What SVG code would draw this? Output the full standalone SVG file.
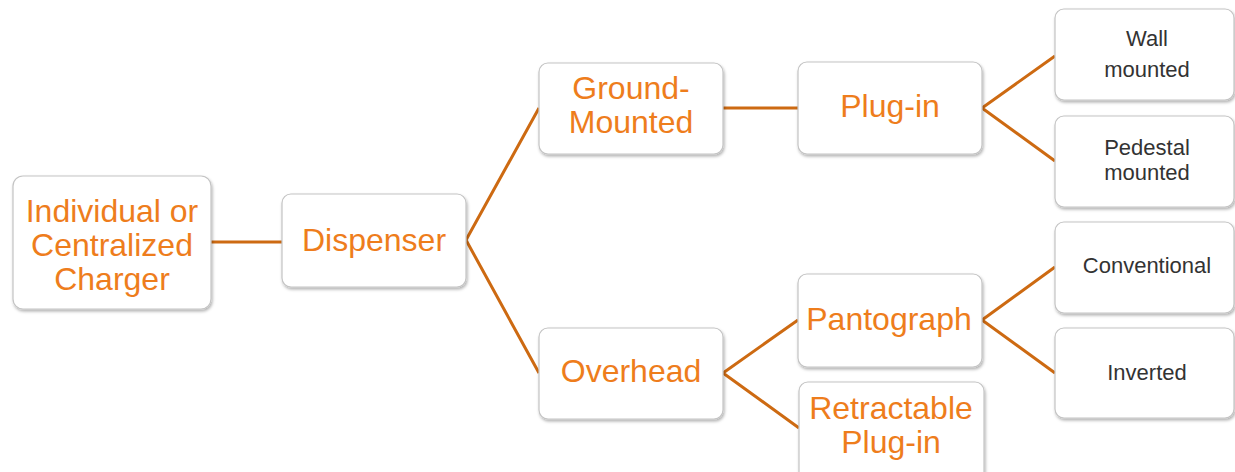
<svg xmlns="http://www.w3.org/2000/svg" width="1235" height="472" viewBox="0 0 1235 472">
<defs>
<filter id="sh" x="-10%" y="-10%" width="125%" height="130%">
<feDropShadow dx="1" dy="2" stdDeviation="1.5" flood-color="#000" flood-opacity="0.3"/>
</filter>
<style>
.box{fill:#fff;stroke:#c4c4c4;stroke-width:1.2;filter:url(#sh)}
.big{font-family:"Liberation Sans",Arial,sans-serif;font-size:32px;fill:#EE7D1C;text-anchor:middle}
.small{font-family:"Liberation Sans",Arial,sans-serif;font-size:22px;fill:#333;text-anchor:middle}
.conn{stroke:#CD6A12;stroke-width:3;fill:none}
</style>
</defs>
<rect width="1235" height="472" fill="#fff"/>
<g id="connectors">
<line class="conn" x1="211" y1="242" x2="282" y2="242"/>
<polyline class="conn" points="539,108 466,240 539,373"/>
<line class="conn" x1="723" y1="108" x2="798" y2="108"/>
<polyline class="conn" points="1055,56 982,108 1055,161"/>
<polyline class="conn" points="798,320 723,373 799,428"/>
<polyline class="conn" points="1055,267 982,320 1055,373"/>
</g>
<g id="individual">
<rect class="box" x="13" y="176" width="198" height="133" rx="10"/>
<text class="big" x="112" y="222">Individual or</text>
<text class="big" x="112" y="256">Centralized</text>
<text class="big" x="112" y="290">Charger</text>
</g>
<g id="dispenser">
<rect class="box" x="282" y="194" width="184" height="93" rx="9"/>
<text class="big" x="374" y="251">Dispenser</text>
</g>
<g id="ground">
<rect class="box" x="539" y="63" width="184" height="91" rx="9"/>
<text class="big" x="631" y="99">Ground-</text>
<text class="big" x="631" y="133">Mounted</text>
</g>
<g id="plugin">
<rect class="box" x="798" y="62" width="184" height="92" rx="9"/>
<text class="big" x="890" y="117">Plug-in</text>
</g>
<g id="wall">
<rect class="box" x="1055" y="9" width="179" height="91" rx="9"/>
<text class="small" x="1147" y="46">Wall</text>
<text class="small" x="1147" y="77">mounted</text>
</g>
<g id="pedestal">
<rect class="box" x="1055" y="116" width="179" height="91" rx="9"/>
<text class="small" x="1147" y="155">Pedestal</text>
<text class="small" x="1147" y="180">mounted</text>
</g>
<g id="overhead">
<rect class="box" x="539" y="328" width="184" height="91" rx="9"/>
<text class="big" x="631" y="382">Overhead</text>
</g>
<g id="pantograph">
<rect class="box" x="798" y="274" width="184" height="93" rx="9"/>
<text class="big" x="889" y="330">Pantograph</text>
</g>
<g id="retractable">
<rect class="box" x="799" y="382" width="185" height="100" rx="9"/>
<text class="big" x="891" y="419">Retractable</text>
<text class="big" x="891" y="453">Plug-in</text>
</g>
<g id="conventional">
<rect class="box" x="1055" y="222" width="179" height="91" rx="9"/>
<text class="small" x="1147" y="273">Conventional</text>
</g>
<g id="inverted">
<rect class="box" x="1055" y="328" width="179" height="90" rx="9"/>
<text class="small" x="1147" y="380">Inverted</text>
</g>
</svg>
